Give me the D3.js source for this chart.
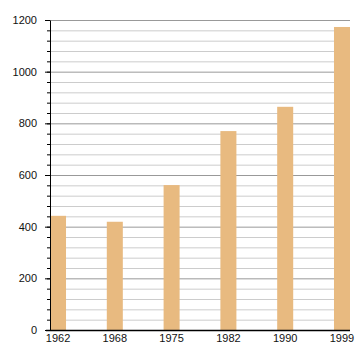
<!DOCTYPE html>
<html>
<head>
<meta charset="utf-8">
<script src="https://cdn.jsdelivr.net/npm/d3@7"></script>
<style>
  body { margin: 0; background: #fff; }
  text { font-family: "Liberation Sans", Arial, sans-serif; }
</style>
</head>
<body>
<div id="wrapper"></div>
<script>
const years = ['1962', '1968', '1975', '1982', '1990', '1999'];
const population = [442, 419, 561, 770, 864, 1173];
const majorTicks = [0, 200, 400, 600, 800, 1000, 1200];
const minorTicks = d3.range(0, 1201, 40);

const dimensions = {
  width: 360,
  height: 360,
  margin: { top: 20, right: 10, bottom: 30, left: 50 },
};
dimensions.boundedWidth = dimensions.width - dimensions.margin.left - dimensions.margin.right;
dimensions.boundedHeight = dimensions.height - dimensions.margin.top - dimensions.margin.bottom;

const svg = d3.select('#wrapper')
  .append('svg')
  .attr('width', dimensions.width)
  .attr('height', dimensions.height);

const bounds = svg.append('g')
  .attr('transform', `translate(${dimensions.margin.left},${dimensions.margin.top})`);

const yScale = d3.scaleLinear()
  .domain([0, 1200])
  .range([dimensions.boundedHeight, 0]);

const xScale = d3.scaleBand()
  .domain(years)
  .range([0, dimensions.boundedWidth])
  .paddingInner(0.718)
  .paddingOuter(0);

// minor grid lines
bounds.append('g')
  .selectAll('line')
  .data(minorTicks.filter(d => d % 200 !== 0))
  .join('line')
  .attr('x1', 0)
  .attr('x2', dimensions.boundedWidth)
  .attr('y1', d => yScale(d) + 0.5)
  .attr('y2', d => yScale(d) + 0.5)
  .attr('stroke', '#cccccc')
  .attr('stroke-width', 1);

// major grid lines
bounds.append('g')
  .selectAll('line')
  .data(majorTicks.filter(d => d > 0))
  .join('line')
  .attr('x1', 0)
  .attr('x2', dimensions.boundedWidth)
  .attr('y1', d => yScale(d) + 0.5)
  .attr('y2', d => yScale(d) + 0.5)
  .attr('stroke', '#999999')
  .attr('stroke-width', 1);

// bars
bounds.append('g')
  .selectAll('rect')
  .data(years)
  .join('rect')
  .attr('x', d => xScale(d))
  .attr('width', xScale.bandwidth())
  .attr('y', (d, i) => yScale(population[i]))
  .attr('height', (d, i) => dimensions.boundedHeight - yScale(population[i]))
  .attr('fill', '#e8ba80');

// y axis: minor ticks
const yMinor = bounds.append('g')
  .call(d3.axisLeft(yScale).tickValues(minorTicks).tickSize(3).tickFormat(''));
yMinor.select('.domain').remove();

// y axis: major ticks and labels
const yAxis = bounds.append('g')
  .call(d3.axisLeft(yScale).tickValues(majorTicks).tickSize(5).tickSizeOuter(0).tickPadding(8).tickFormat(d3.format('d')));
yAxis.selectAll('text')
  .style('font-size', '11px')
  .attr('fill', '#111');
yAxis.select('.domain').attr('stroke', '#000');

// x axis
const xAxis = bounds.append('g')
  .attr('transform', `translate(0,${dimensions.boundedHeight})`)
  .call(d3.axisBottom(xScale).tickSize(0).tickPadding(4));
xAxis.select('.domain')
  .attr('d', `M-4,0.5H${dimensions.boundedWidth}`)
  .attr('stroke', '#000')
  .attr('stroke-width', 1.5);
xAxis.selectAll('text')
  .style('font-size', '11px')
  .attr('fill', '#111');
</script>
</body>
</html>
